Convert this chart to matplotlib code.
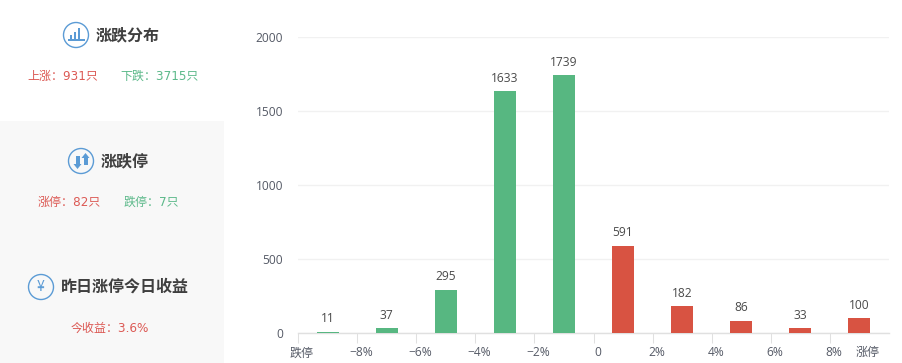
import matplotlib
matplotlib.use("Agg")
import matplotlib.pyplot as plt
from matplotlib.patches import Rectangle, Circle, Polygon
from matplotlib.transforms import ScaledTranslation

plt.rcParams['font.family'] = ['DejaVu Sans', 'Noto Sans CJK SC']

values = [11, 37, 295, 1633, 1739, 591, 182, 86, 33, 100]
tick_labels = ['跌停', '−8%', '−6%', '−4%', '−2%', '0', '2%', '4%', '6%', '8%', '涨停']
y_ticks = [0, 500, 1000, 1500, 2000]
GREEN, RED = '#57b781', '#d85342'
BLUE = '#5b9bd5'
W, H = 902, 363
CHART_FONT = ['Open Sans', 'Noto Sans CJK SC']

fig = plt.figure(figsize=(W/100, H/100), dpi=100, facecolor='white')
px = lambda v: v*72/100

# side panel overlay in pixel coordinates
ov = fig.add_axes([0, 0, 1, 1])
ov.set_xlim(0, W); ov.set_ylim(H, 0); ov.axis('off')
ov.add_patch(Rectangle((0, 121), 224, 242, fc='#f8f8f8', ec='none'))

def icon(x, y):
    ov.add_patch(Circle((x, y), 12.5, fc='none', ec=BLUE, lw=1.0))

def t(x, y, s, c, size=12, bold=False, ha='left', family=None):
    ov.text(x, y, s, color=c, fontsize=px(size), ha=ha, va='center',
            fontweight='bold' if bold else 'normal', family=family)

TITLE = '#3f3f3f'
TR, TG = '#dc5a55', '#5cb98a'
CJK = ['Noto Sans CJK SC']
icon(76, 35)
for bx, h in [(70, 4), (74, 7), (78, 11)]:
    ov.add_patch(Rectangle((bx, 38.5-h), 2.4, h, fc=BLUE, ec='none'))
ov.add_patch(Rectangle((68, 38.8), 17, 1.8, fc=BLUE, ec='none'))
t(96, 35, '涨跌分布', TITLE, 16, True, family=CJK)
t(27, 76.5, '上涨：931只', TR)
t(120, 76.5, '下跌：3715只', TG)

icon(81, 161)
ov.add_patch(Rectangle((75.5, 156), 4, 9, fc=BLUE, ec='none'))
ov.add_patch(Polygon([(73.5, 164), (81.5, 164), (77.5, 169)], fc=BLUE, ec='none'))
ov.add_patch(Rectangle((83.5, 157), 4, 8, fc=BLUE, ec='none'))
ov.add_patch(Polygon([(81.5, 158), (89.5, 158), (85.5, 153)], fc=BLUE, ec='none'))
t(101, 161, '涨跌停', TITLE, 16, True, family=CJK)
t(38, 202.5, '涨停：82只', TR)
t(124, 202.5, '跌停：7只', TG)

icon(41, 287)
t(41, 287, '¥', BLUE, 14, False, 'center', family=CJK)
t(61, 287, '昨日涨停今日收益', TITLE, 16, True, family=CJK)
t(71, 328.5, '今收益：3.6%', TR)

# bar chart
x0, x1, y_top, y_bot = 298, 889, 36.5, 333.3
ax = fig.add_axes([x0/W, 1-y_bot/H, (x1-x0)/W, (y_bot-y_top)/H])
ax.patch.set_alpha(0)
positions = [i + 0.5 for i in range(len(values))]
colors = [GREEN]*5 + [RED]*5
bars = ax.bar(positions, values, width=0.372, color=colors, zorder=3)
for b, v in zip(bars, values):
    ax.annotate(str(v), (b.get_x()+b.get_width()/2, v), xytext=(0, 4.5), textcoords='offset points',
                ha='center', va='bottom', fontsize=px(12), color='#4a4a4a', family=CHART_FONT)
ax.set_xlim(0, 10); ax.set_ylim(0, 2000)
ax.set_yticks(y_ticks)
ax.tick_params(axis='y', length=0, pad=px(15), labelsize=px(12), labelcolor='#555a66')
ax.grid(axis='y', color='#f1f1f1', lw=1, zorder=0)
ax.set_axisbelow(True)
for s in ['top', 'right', 'left']:
    ax.spines[s].set_visible(False)
ax.spines['bottom'].set_color('#e0e0e0')
ax.spines['bottom'].set_linewidth(1)
ax.set_xticks(range(11))
ax.set_xticklabels(tick_labels)
ax.tick_params(axis='x', length=px(10), width=0.75, color='#e0e0e0', pad=px(3),
               labelsize=px(12), labelcolor='#555a66')
for lab in ax.get_yticklabels() + ax.get_xticklabels():
    lab.set_family(CHART_FONT)
ticks = ax.xaxis.get_major_ticks()
ticks[10].tick1line.set_visible(False)
for i, lab in enumerate(ax.get_xticklabels()):
    dx = -21 if i == 10 else 4
    lab.set_transform(lab.get_transform() + ScaledTranslation(dx/100, 0, fig.dpi_scale_trans))

fig.savefig('out.png', dpi=100)
